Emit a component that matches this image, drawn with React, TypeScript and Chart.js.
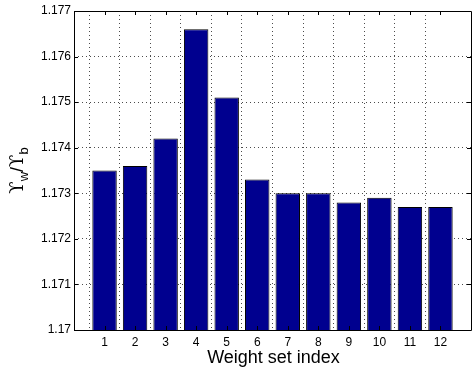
import React, { useEffect, useRef } from "react";
import { Chart, registerables } from "chart.js";

Chart.register(...registerables);

const categories = [1, 2, 3, 4, 5, 6, 7, 8, 9, 10, 11, 12];
const values = [1.1735, 1.1736, 1.1742, 1.1766, 1.1751, 1.1733, 1.173, 1.173, 1.1728, 1.1729, 1.1727, 1.1727];
const yMin = 1.17;
const yMax = 1.177;
const yStep = 0.001;
const xLabel = "Weight set index";
const yLabelParts = [
  { text: "\u03D2", sub: false, sym: true },
  { text: "w", sub: true, sym: false },
  { text: "/", sub: false, sym: false },
  { text: "\u03D2", sub: false, sym: true },
  { text: "b", sub: true, sym: false },
];

const FONT = "'Liberation Sans', Arial, Helvetica, 'DejaVu Sans', sans-serif";
const SYM_FONT = "'DejaVu Serif', 'DejaVu Sans', serif";

const framePlugin = {
  id: "matlabFrame",
  afterDraw(chart: any) {
    const { ctx, chartArea } = chart;
    const { left, top, right, bottom } = chartArea;
    ctx.save();
    ctx.strokeStyle = "#000";
    ctx.lineWidth = 1;
    ctx.beginPath();
    ctx.rect(Math.round(left) + 0.5, Math.round(top) + 0.5, Math.round(right - left), Math.round(bottom - top));
    ctx.stroke();
    const tl = 4;
    const ys = chart.scales.y;
    const xs = chart.scales.x;
    ctx.beginPath();
    ys.ticks.forEach((t: any) => {
      const py = Math.round(ys.getPixelForValue(t.value)) + 0.5;
      ctx.moveTo(left, py);
      ctx.lineTo(left + tl, py);
      ctx.moveTo(right, py);
      ctx.lineTo(right - tl, py);
    });
    categories.forEach((c) => {
      const px = Math.round(xs.getPixelForValue(c)) + 0.5;
      ctx.moveTo(px, bottom);
      ctx.lineTo(px, bottom - tl);
      ctx.moveTo(px, top);
      ctx.lineTo(px, top + tl);
    });
    ctx.stroke();

    ctx.fillStyle = "#000";
    ctx.font = `18px ${FONT}`;
    ctx.textAlign = "center";
    ctx.textBaseline = "alphabetic";
    ctx.fillText(xLabel, (left + right) / 2 + 1, 363);

    const fontFor = (p: any) => (p.sub ? `13px ${FONT}` : p.sym ? `18px ${SYM_FONT}` : `18px ${FONT}`);
    let total = 0;
    const widths = yLabelParts.map((p) => {
      ctx.font = fontFor(p);
      const w = ctx.measureText(p.text).width;
      total += w;
      return w;
    });
    ctx.translate(23, (top + bottom) / 2);
    ctx.rotate(-Math.PI / 2);
    ctx.textAlign = "left";
    let x = -total / 2;
    yLabelParts.forEach((p, i) => {
      ctx.font = fontFor(p);
      ctx.fillText(p.text, x, p.sub ? 5 : 0);
      x += widths[i];
    });
    ctx.restore();
  },
};

export default function App() {
  const ref = useRef<HTMLCanvasElement | null>(null);

  useEffect(() => {
    document.body.style.margin = "0";
    const canvas = ref.current;
    if (!canvas) return;
    const chart = new Chart(canvas, {
      type: "bar",
      data: {
        datasets: [
          {
            data: categories.map((c, i) => ({ x: c, y: values[i] })),
            backgroundColor: "#00008F",
            borderColor: "#000",
            borderWidth: 1,
            barPercentage: 0.8,
            categoryPercentage: 1,
          },
        ],
      },
      options: {
        responsive: false,
        animation: false,
        events: [],
        layout: { padding: { top: 11, right: 1, left: 0, bottom: 0 } },
        plugins: { legend: { display: false }, tooltip: { enabled: false } },
        scales: {
          x: {
            type: "linear",
            min: 0,
            max: 13,
            offset: false,
            afterFit(scale: any) {
              scale.height = 42;
            },
            border: { display: false, dash: [1, 3] },
            grid: {
              drawTicks: false,
              color: (ctx: any) =>
                ctx.tick && ctx.tick.value >= 1 && ctx.tick.value <= 12 ? "rgba(0,0,0,0.7)" : "rgba(0,0,0,0)",
            },
            ticks: {
              stepSize: 1,
              padding: 5,
              color: "#000",
              font: { family: FONT, size: 12 },
              maxRotation: 0,
              autoSkip: false,
              callback: (v: any) => (v >= 1 && v <= 12 ? String(v) : ""),
            },
          },
          y: {
            min: yMin,
            max: yMax,
            afterFit(scale: any) {
              scale.width = 74;
            },
            border: { display: false, dash: [1, 3] },
            grid: {
              drawTicks: false,
              color: "rgba(0,0,0,0.7)",
            },
            ticks: {
              stepSize: yStep,
              padding: 3,
              color: "#000",
              font: { family: FONT, size: 12 },
              callback: (v: any) => String(parseFloat(Number(v).toFixed(3))),
            },
          },
        },
      },
      plugins: [framePlugin],
    } as any);
    return () => chart.destroy();
  }, []);

  return (
    <div style={{ position: "absolute", left: 0, top: 0, width: 472, height: 372, overflow: "hidden" }}>
      <canvas ref={ref} width={476} height={372} style={{ display: "block", width: 476, height: 372 }} />
    </div>
  );
}
